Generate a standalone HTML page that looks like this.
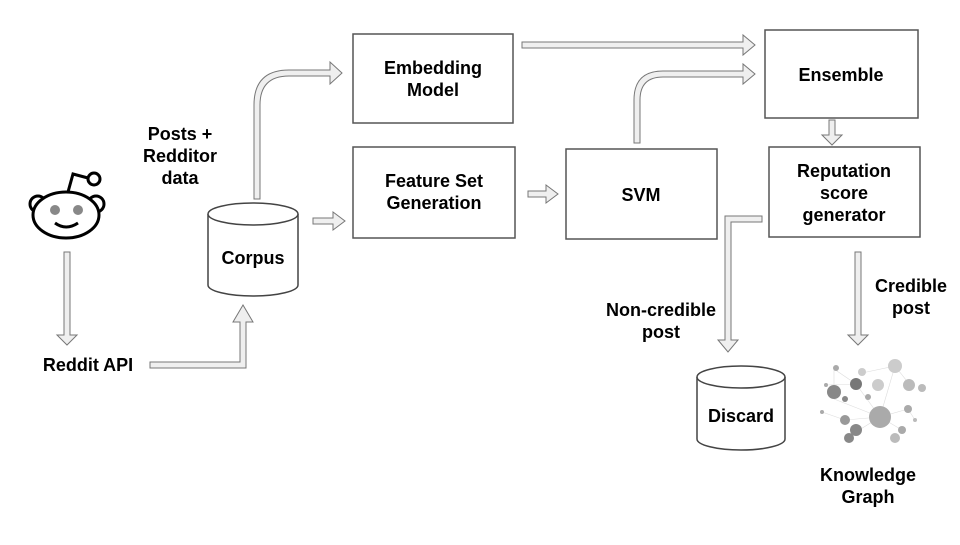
<!DOCTYPE html>
<html><head><meta charset="utf-8"><style>
body{margin:0;background:#fff;width:960px;height:540px;overflow:hidden}
svg text{font-family:"Liberation Sans",Arial,sans-serif;font-weight:bold;font-size:18px;fill:#000;text-anchor:middle}
</style></head><body>
<svg width="960" height="540" viewBox="0 0 960 540" xmlns="http://www.w3.org/2000/svg">
<g fill="none" stroke="#555" stroke-width="1.5">
<rect x="353" y="34" width="160" height="89"/>
<rect x="353" y="147" width="162" height="91"/>
<rect x="566" y="149" width="151" height="90"/>
<rect x="765" y="30" width="153" height="88"/>
<rect x="769" y="147" width="151" height="90"/>
</g>
<g fill="#fff" stroke="#444" stroke-width="1.5">
<path d="M208,214 L208,285 A45,11 0 0 0 298,285 L298,214"/>
<ellipse cx="253" cy="214" rx="45" ry="11"/>
<path d="M697,377 L697,439 A44,11 0 0 0 785,439 L785,377"/>
<ellipse cx="741" cy="377" rx="44" ry="11"/>
</g>
<g fill="#efefef" stroke="#777" stroke-width="1">
<path d="M64,252 H70 V335 H77 L67,345 L57,335 H64 Z"/>
<path d="M150,362 H240 V322 H233 L243,305 L253,322 H246 V368 H150 Z"/>
<path d="M254,199 V105 Q254,70 289,70 H330 V62 L342,73 L330,84 V76 H289 Q260,76 260,105 V199 Z"/>
<path d="M313,218 H333 V212 L345,221 L333,230 V224 H313 Z"/>
<path d="M528,191 H546 V185 L558,194 L546,203 V197 H528 Z"/>
<path d="M522,42 H743 V35 L755,45 L743,55 V48 H522 Z"/>
<path d="M634,143 V100 Q634,71 663,71 H743 V64 L755,74 L743,84 V77 H663 Q640,77 640,100 V143 Z"/>
<path d="M829,120 H835 V135 H842 L832,145 L822,135 H829 Z"/>
<path d="M762,216 H725 V340 H718 L728,352 L738,340 H731 V222 H762 Z"/>
<path d="M855,252 H861 V335 H868 L858,345 L848,335 H855 Z"/>
</g>
<g stroke="#000" stroke-width="3" fill="#fff">
<circle cx="38" cy="204" r="8"/>
<circle cx="96" cy="204" r="8"/>
<ellipse cx="66" cy="215" rx="33" ry="23"/>
<polyline points="68,192 73,174 88,178" fill="none"/>
<circle cx="94" cy="179" r="6"/>
<path d="M55,223 Q66,231 78,223" fill="none"/>
</g>
<circle cx="55" cy="210" r="5" fill="#888"/>
<circle cx="78" cy="210" r="5" fill="#888"/>
<g stroke="#ddd" stroke-width="0.6">
<line x1="834" y1="369" x2="856" y2="384"/><line x1="856" y1="384" x2="880" y2="417"/>
<line x1="834" y1="399" x2="880" y2="417"/><line x1="880" y1="417" x2="895" y2="366"/>
<line x1="895" y1="366" x2="910" y2="385"/><line x1="845" y1="420" x2="880" y2="417"/>
<line x1="848" y1="437" x2="880" y2="417"/><line x1="908" y1="409" x2="880" y2="417"/>
<line x1="822" y1="412" x2="845" y2="420"/><line x1="862" y1="373" x2="895" y2="366"/>
<line x1="834" y1="369" x2="834" y2="399"/><line x1="902" y1="430" x2="880" y2="417"/>
<line x1="826" y1="385" x2="856" y2="384"/><line x1="915" y1="420" x2="908" y2="409"/>
</g>
<g>
<circle cx="880" cy="417" r="11" fill="#aaa"/>
<circle cx="856" cy="384" r="6" fill="#777"/>
<circle cx="834" cy="392" r="7" fill="#888"/>
<circle cx="895" cy="366" r="7" fill="#ccc"/>
<circle cx="878" cy="385" r="6" fill="#ccc"/>
<circle cx="909" cy="385" r="6" fill="#bbb"/>
<circle cx="862" cy="372" r="4" fill="#ccc"/>
<circle cx="845" cy="420" r="5" fill="#999"/>
<circle cx="849" cy="438" r="5" fill="#888"/>
<circle cx="856" cy="430" r="6" fill="#888"/>
<circle cx="908" cy="409" r="4" fill="#aaa"/>
<circle cx="902" cy="430" r="4" fill="#aaa"/>
<circle cx="895" cy="438" r="5" fill="#bbb"/>
<circle cx="845" cy="399" r="3" fill="#888"/>
<circle cx="836" cy="368" r="3" fill="#aaa"/>
<circle cx="922" cy="388" r="4" fill="#bbb"/>
<circle cx="822" cy="412" r="2" fill="#aaa"/>
<circle cx="868" cy="397" r="3" fill="#aaa"/>
<circle cx="826" cy="385" r="2" fill="#aaa"/>
<circle cx="915" cy="420" r="2" fill="#bbb"/>
</g>
<text x="433" y="74">Embedding</text><text x="433" y="96">Model</text>
<text x="434" y="187">Feature Set</text><text x="434" y="209">Generation</text>
<text x="641" y="201">SVM</text>
<text x="841" y="81">Ensemble</text>
<text x="844" y="177">Reputation</text><text x="844" y="199">score</text><text x="844" y="221">generator</text>
<text x="253" y="264">Corpus</text>
<text x="741" y="422">Discard</text>
<text x="180" y="140">Posts +</text><text x="180" y="162">Redditor</text><text x="180" y="184">data</text>
<text x="88" y="371">Reddit API</text>
<text x="661" y="316">Non-credible</text><text x="661" y="338">post</text>
<text x="911" y="292">Credible</text><text x="911" y="314">post</text>
<text x="868" y="481">Knowledge</text><text x="868" y="503">Graph</text>
</svg>
</body></html>
